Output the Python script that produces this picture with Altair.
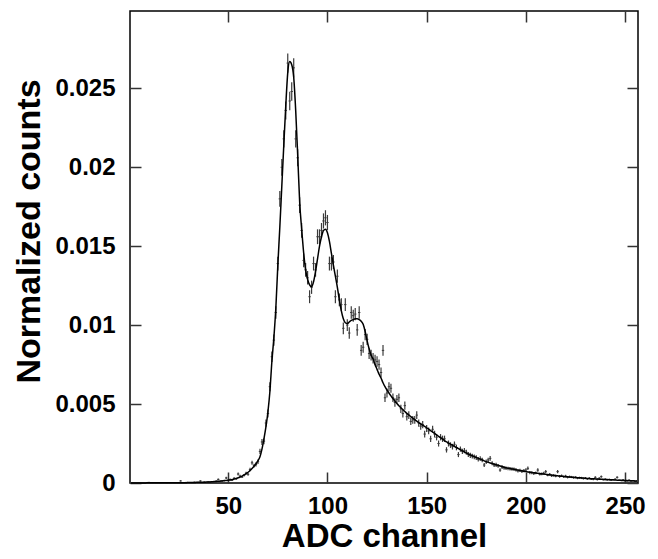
import altair as alt
import pandas as pd

# ADC channel numbers
channels = list(range(1, 257))

# Measured normalized counts per channel, in units of 1e-5
counts_e5 = [
    2, 0, 1, 3, 0, 1, 2, 0, 1, 4,
    1, 0, 2, 1, 3, 0, 1, 2, 0, 3,
    1, 2, 0, 3, 1, 13, 2, 1, 4, 2,
    3, 1, 5, 2, 4, 13, 3, 6, 4, 7,
    6, 9, 8, 12, 23, 10, 14, 16, 32, 15,
    22, 18, 30, 26, 57, 44, 38, 49, 62, 55,
    85, 128, 110, 118, 135, 200, 260, 265, 380, 440,
    610, 800, 905, 1080, 1390, 1800, 2000, 2180, 2360, 2660,
    2420, 2480, 2630, 2180, 2060, 1760, 1600, 1410, 1350, 1300,
    1180, 1240, 1390, 1350, 1560, 1560, 1600, 1660, 1680, 1650,
    1390, 1390, 1400, 1180, 1310, 1160, 1130, 980, 1130, 1000,
    950, 1080, 1060, 1070, 970, 1080, 840, 860, 940, 910,
    820, 810, 790, 780, 770, 750, 700, 840, 540, 570,
    610, 600, 540, 510, 530, 540, 470, 440, 490, 420,
    430, 390, 400, 400, 430, 380, 360, 370, 310, 345,
    330, 280, 340, 310, 290, 250, 290, 280, 280, 210,
    250, 240, 230, 245, 225, 180, 215, 200, 205, 195,
    180, 175, 170, 165, 160, 150, 155, 146, 114, 135,
    146, 156, 125, 114, 115, 108, 82, 100, 96, 93,
    92, 90, 88, 87, 84, 76, 80, 74, 78, 82,
    93, 66, 65, 60, 64, 82, 56, 58, 62, 72,
    50, 55, 46, 48, 44, 72, 42, 46, 40, 44,
    36, 40, 38, 34, 36, 30, 33, 32, 28, 31,
    26, 30, 25, 24, 36, 22, 30, 40, 21, 24,
    20, 22, 18, 21, 24, 36, 17, 16, 20, 14,
    15, 18, 12, 14, 10, 12,
]

# Statistical errors per channel, in units of 1e-5
errors_e5 = [
    2, 1, 1, 2, 1, 1, 2, 1, 1, 2,
    1, 1, 2, 1, 2, 1, 1, 2, 1, 2,
    1, 2, 1, 2, 1, 4, 2, 1, 2, 2,
    2, 1, 3, 2, 2, 4, 2, 3, 2, 3,
    3, 4, 3, 4, 6, 4, 4, 5, 7, 5,
    6, 5, 6, 6, 9, 8, 7, 8, 9, 9,
    11, 13, 12, 13, 14, 17, 19, 19, 23, 25,
    29, 33, 35, 39, 44, 50, 53, 55, 57, 61,
    58, 59, 61, 55, 54, 50, 47, 44, 43, 43,
    41, 42, 44, 43, 47, 47, 47, 48, 48, 48,
    44, 44, 44, 41, 42, 40, 40, 37, 40, 37,
    36, 39, 38, 39, 37, 39, 34, 35, 36, 36,
    34, 34, 33, 33, 33, 32, 31, 34, 27, 28,
    29, 29, 27, 27, 27, 27, 26, 25, 26, 24,
    24, 23, 24, 24, 24, 23, 22, 23, 21, 22,
    21, 20, 22, 21, 20, 19, 20, 20, 20, 17,
    19, 18, 18, 18, 18, 16, 17, 17, 17, 16,
    16, 16, 15, 15, 15, 14, 15, 14, 13, 14,
    14, 15, 13, 13, 13, 12, 11, 12, 12, 11,
    11, 11, 11, 11, 11, 10, 11, 10, 10, 11,
    11, 10, 10, 9, 9, 11, 9, 9, 9, 10,
    8, 9, 8, 8, 8, 10, 8, 8, 7, 8,
    7, 7, 7, 7, 7, 6, 7, 7, 6, 7,
    6, 6, 6, 6, 7, 6, 6, 7, 5, 6,
    5, 6, 5, 5, 6, 7, 5, 5, 5, 4,
    5, 5, 4, 4, 4, 4,
]

# Fitted curve per channel, in units of 1e-5
fit_e5 = [
    0, 0, 0, 0, 0, 0, 0, 0, 1, 1,
    1, 1, 1, 1, 1, 1, 1, 1, 1, 1,
    1, 1, 1, 2, 2, 2, 2, 2, 2, 3,
    3, 3, 3, 4, 4, 4, 5, 5, 6, 6,
    7, 8, 9, 10, 11, 12, 13, 15, 16, 18,
    19, 22, 25, 29, 33, 38, 44, 51, 59, 68,
    79, 92, 106, 122, 142, 167, 215, 280, 355, 450,
    580, 770, 920, 1110, 1380, 1620, 1880, 2140, 2390, 2600,
    2670, 2650, 2570, 2360, 2080, 1780, 1610, 1460, 1350, 1290,
    1255, 1243, 1275, 1340, 1420, 1500, 1560, 1600, 1608, 1585,
    1530, 1455, 1380, 1310, 1240, 1160, 1090, 1040, 1015, 1010,
    1020, 1030, 1035, 1040, 1040, 1035, 1025, 1005, 960, 900,
    850, 810, 785, 750, 720, 690, 665, 635, 610, 589,
    570, 552, 535, 519, 504, 490, 477, 465, 453, 441,
    431, 421, 411, 401, 392, 383, 374, 366, 358, 350,
    341, 332, 323, 314, 305, 296, 287, 278, 269, 260,
    253, 246, 239, 232, 225, 218, 211, 204, 197, 190,
    184, 178, 173, 167, 162, 156, 151, 146, 140, 135,
    131, 127, 123, 119, 116, 112, 108, 104, 100, 97,
    94, 92, 89, 87, 84, 82, 79, 77, 74, 72,
    70, 68, 67, 65, 63, 62, 60, 58, 57, 55,
    53, 52, 50, 49, 47, 46, 44, 43, 41, 40,
    39, 38, 37, 36, 35, 34, 33, 32, 31, 30,
    29, 28, 27, 27, 26, 25, 24, 24, 23, 22,
    22, 21, 20, 20, 19, 18, 18, 17, 16, 16,
    15, 15, 14, 14, 13, 13,
]

x_ticks = [50, 100, 150, 200, 250]
y_ticks = [0, 0.005, 0.01, 0.015, 0.02, 0.025]

df = pd.DataFrame({
    "ch": channels,
    "val": [v * 1e-5 for v in counts_e5],
    "err": [e * 1e-5 for e in errors_e5],
    "fit": [f * 1e-5 for f in fit_e5],
})

FONT = "Liberation Sans"
xscale = alt.Scale(domain=[0.5, 256.5], nice=False, zero=False)
yscale = alt.Scale(domain=[0, 0.0299], nice=False, zero=False)

common_axis = dict(
    domain=False, ticks=True, tickSize=11, tickWidth=1.5, tickColor="#333333",
    offset=-11, grid=False, labelFont=FONT, labelFontWeight="bold",
    labelFontSize=24, labelColor="black", titleFont=FONT,
    titleFontWeight="bold", titleColor="black",
)

x_bottom = alt.Axis(orient="bottom", values=x_ticks, format="d",
                    title="ADC channel", labelPadding=11, titlePadding=2,
                    titleFontSize=33, **common_axis)
y_left = alt.Axis(orient="left", values=y_ticks, format="~g",
                  title="Normalized counts", labelPadding=15, titlePadding=8,
                  titleFontSize=34, titleY=220, **common_axis)
x_top = alt.Axis(orient="top", values=x_ticks, labels=False, title=None,
                 **common_axis)
y_right = alt.Axis(orient="right", values=y_ticks, labels=False, title=None,
                   **common_axis)

base = alt.Chart(df).transform_calculate(
    lo="datum.val - datum.err",
    hi="datum.val + datum.err",
    xl="datum.ch - 0.6",
    xr="datum.ch + 0.6",
)

errbars = base.mark_rule(color="#3a3a3a", strokeWidth=1.2).encode(
    x=alt.X("ch:Q", scale=xscale, axis=x_bottom),
    y=alt.Y("lo:Q", scale=yscale, axis=y_left),
    y2="hi:Q",
)

dashes = base.mark_rule(color="#3a3a3a", strokeWidth=1).encode(
    x=alt.X("xl:Q", scale=xscale, axis=None),
    x2="xr:Q",
    y=alt.Y("val:Q", scale=yscale, axis=None),
)

fitline = alt.Chart(df).mark_line(color="black", strokeWidth=1.5,
                                  interpolate="monotone").encode(
    x=alt.X("ch:Q", scale=xscale, axis=x_top),
    y=alt.Y("fit:Q", scale=yscale, axis=y_right),
)

chart = alt.layer(errbars, dashes, fitline).resolve_axis(
    x="independent", y="independent"
).properties(
    width=508, height=472,
    autosize=alt.AutoSizeParams(type="none"),
    padding={"left": 122, "top": 3, "right": 12, "bottom": 76},
    background="white",
).configure_view(stroke="black", strokeWidth=1.5)

chart.save("out.html", embed_options={"renderer": "svg", "actions": False})
